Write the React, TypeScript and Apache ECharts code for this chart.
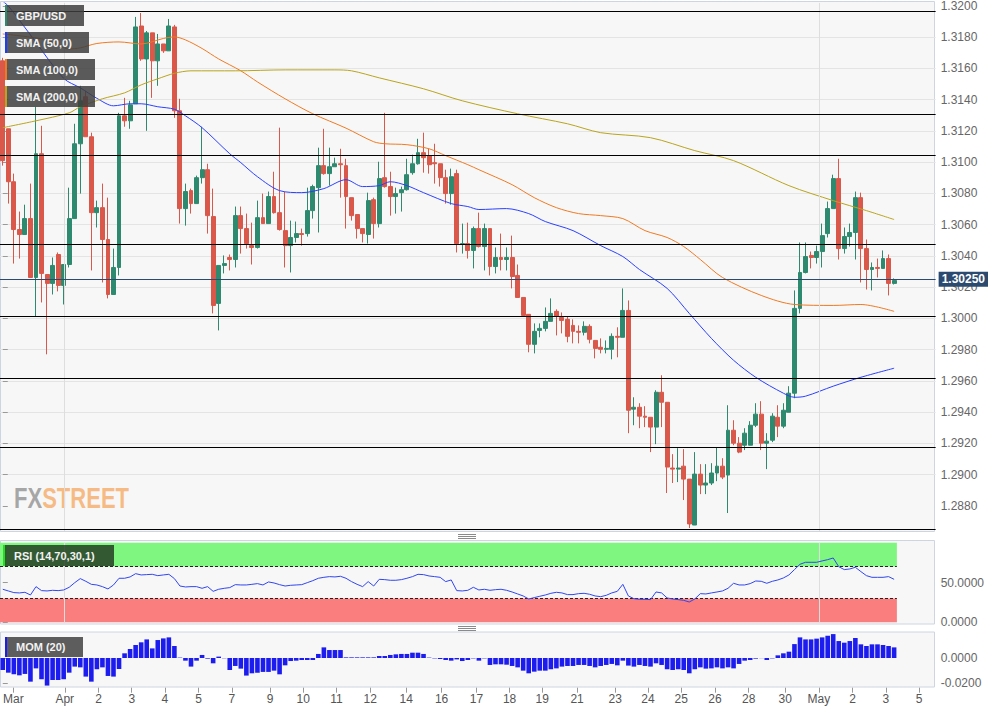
import React, { useEffect, useRef } from 'react';
import * as echarts from 'echarts';

const FONT = '"Liberation Sans", Arial, Helvetica, sans-serif';

// ---------------- data ----------------
const symbolName = 'GBP/USD';
const openP = [
  1.31649, 1.31214, 1.30875, 1.30569, 1.30537, 1.30639, 1.30262, 1.31054, 1.30281, 1.30224,
  1.30409, 1.30211, 1.30345, 1.30639, 1.31118, 1.31419, 1.31163, 1.30677, 1.30709, 1.30505,
  1.30153, 1.30326, 1.31297, 1.31265, 1.31374, 1.31872, 1.31661, 1.31828, 1.31649, 1.31757,
  1.31713, 1.31866, 1.31329, 1.30703, 1.30818, 1.30735, 1.30901, 1.30952, 1.30652, 1.30096,
  1.30339, 1.30390, 1.30377, 1.30658, 1.30575, 1.30466, 1.30454, 1.30645, 1.30607, 1.30780,
  1.30677, 1.30562, 1.30466, 1.30518, 1.30543, 1.30543, 1.30690, 1.30837, 1.30978, 1.30927,
  1.30971, 1.30990, 1.30978, 1.30773, 1.30665, 1.30575, 1.30537, 1.30760, 1.30607, 1.30901,
  1.30844, 1.30780, 1.30805, 1.30824, 1.30933, 1.30990, 1.31061, 1.31042, 1.30997, 1.30990,
  1.30901, 1.30799, 1.30927, 1.30473, 1.30479, 1.30435, 1.30575, 1.30460, 1.30575, 1.30332,
  1.30390, 1.30377, 1.30390, 1.30275, 1.30134, 1.30026, 1.29834, 1.29923, 1.29936, 1.29981,
  1.30045, 1.30006, 1.29994, 1.29955, 1.29917, 1.29911, 1.29949, 1.29859, 1.29815, 1.29802,
  1.29802, 1.29885, 1.29879, 1.30051, 1.29419, 1.29431, 1.29374, 1.29367, 1.29304, 1.29527,
  1.29463, 1.29042, 1.29035, 1.29054, 1.28971, 1.28677, 1.29003, 1.28933, 1.28946, 1.29010,
  1.29054, 1.28997, 1.29284, 1.29201, 1.29188, 1.29188, 1.29316, 1.29387, 1.29201, 1.29220,
  1.29367, 1.29310, 1.29399, 1.29521, 1.30064, 1.30294, 1.30403, 1.30390, 1.30428, 1.30543,
  1.30703, 1.30895, 1.30447, 1.30524, 1.30550, 1.30773, 1.30447, 1.30313, 1.30326, 1.30320,
  1.30383, 1.30224,
];
const closeP = [
  1.31010, 1.30875, 1.30569, 1.30537, 1.30639, 1.30262, 1.31054, 1.30288, 1.30224, 1.30339,
  1.30211, 1.30345, 1.30639, 1.31118, 1.31393, 1.31163, 1.30677, 1.30709, 1.30505, 1.30153,
  1.30326, 1.31297, 1.31265, 1.31367, 1.31866, 1.31661, 1.31828, 1.31649, 1.31757, 1.31713,
  1.31872, 1.31329, 1.30703, 1.30812, 1.30735, 1.30901, 1.30952, 1.30658, 1.30083, 1.30339,
  1.30351, 1.30377, 1.30658, 1.30575, 1.30479, 1.30454, 1.30645, 1.30607, 1.30780, 1.30677,
  1.30569, 1.30466, 1.30518, 1.30543, 1.30537, 1.30690, 1.30844, 1.30978, 1.30927, 1.30971,
  1.30990, 1.30984, 1.30780, 1.30658, 1.30575, 1.30543, 1.30754, 1.30607, 1.30895, 1.30844,
  1.30780, 1.30799, 1.30824, 1.30920, 1.30990, 1.31061, 1.31029, 1.30984, 1.30990, 1.30901,
  1.30799, 1.30907, 1.30479, 1.30479, 1.30435, 1.30575, 1.30460, 1.30575, 1.30332, 1.30390,
  1.30377, 1.30390, 1.30268, 1.30134, 1.30019, 1.29834, 1.29917, 1.29936, 1.29981, 1.30032,
  1.30013, 1.29987, 1.29885, 1.29917, 1.29911, 1.29949, 1.29866, 1.29808, 1.29802, 1.29808,
  1.29885, 1.29879, 1.30051, 1.29412, 1.29431, 1.29374, 1.29367, 1.29304, 1.29527, 1.29463,
  1.29048, 1.29035, 1.29042, 1.28971, 1.28684, 1.29003, 1.28933, 1.28946, 1.29010, 1.29054,
  1.28984, 1.29284, 1.29201, 1.29144, 1.29265, 1.29316, 1.29387, 1.29201, 1.29214, 1.29374,
  1.29310, 1.29412, 1.29521, 1.30064, 1.30294, 1.30396, 1.30390, 1.30428, 1.30530, 1.30703,
  1.30895, 1.30447, 1.30524, 1.30550, 1.30773, 1.30447, 1.30313, 1.30326, 1.30320, 1.30383,
  1.30224, 1.30243,
];
const highP = [
  1.31668, 1.31214, 1.30927, 1.30684, 1.30728, 1.30863, 1.31355, 1.31233, 1.30281, 1.30390,
  1.30422, 1.30345, 1.30837, 1.31246, 1.31489, 1.31457, 1.31189, 1.30754, 1.30863, 1.30773,
  1.30447, 1.31316, 1.31412, 1.31393, 1.31930, 1.31955, 1.31840, 1.31828, 1.31821, 1.31757,
  1.31917, 1.31879, 1.31406, 1.30863, 1.30831, 1.30914, 1.31227, 1.30990, 1.30831, 1.30339,
  1.30403, 1.30409, 1.30716, 1.30716, 1.30671, 1.30613, 1.30754, 1.30799, 1.30812, 1.30939,
  1.31221, 1.30812, 1.30626, 1.30620, 1.30575, 1.30837, 1.30856, 1.31093, 1.31214, 1.31093,
  1.31029, 1.31086, 1.31022, 1.30773, 1.30665, 1.30575, 1.30805, 1.30773, 1.31003, 1.31316,
  1.30939, 1.30837, 1.30844, 1.31022, 1.31048, 1.31150, 1.31189, 1.31086, 1.31118, 1.30990,
  1.30952, 1.30959, 1.30952, 1.30607, 1.30613, 1.30588, 1.30677, 1.30607, 1.30575, 1.30454,
  1.30543, 1.30454, 1.30530, 1.30345, 1.30134, 1.30026, 1.29968, 1.29968, 1.30070, 1.30128,
  1.30058, 1.30038, 1.30013, 1.29994, 1.29955, 1.29981, 1.29962, 1.29859, 1.29872, 1.29859,
  1.29904, 1.29943, 1.30192, 1.30115, 1.29495, 1.29457, 1.29438, 1.29367, 1.29540, 1.29636,
  1.29463, 1.29131, 1.29169, 1.29163, 1.28971, 1.29144, 1.29067, 1.29067, 1.29073, 1.29176,
  1.29105, 1.29444, 1.29348, 1.29240, 1.29297, 1.29342, 1.29457, 1.29470, 1.29265, 1.29393,
  1.29444, 1.29457, 1.29566, 1.30179, 1.30486, 1.30486, 1.30428, 1.30466, 1.30607, 1.30748,
  1.30920, 1.31022, 1.30582, 1.30607, 1.30812, 1.30805, 1.30505, 1.30358, 1.30383, 1.30435,
  1.30409, 1.30256,
];
const lowP = [
  1.30978, 1.30735, 1.30351, 1.30383, 1.30537, 1.30262, 1.30013, 1.30102, 1.29770, 1.30153,
  1.30173, 1.30089, 1.30326, 1.30639, 1.30799, 1.31163, 1.30307, 1.30582, 1.30230, 1.30128,
  1.30153, 1.30275, 1.31227, 1.31214, 1.31374, 1.31649, 1.31201, 1.31412, 1.31489, 1.31700,
  1.31713, 1.31284, 1.30607, 1.30594, 1.30671, 1.30735, 1.30863, 1.30543, 1.30032, 1.29923,
  1.30288, 1.30307, 1.30326, 1.30415, 1.30447, 1.30345, 1.30447, 1.30607, 1.30607, 1.30671,
  1.30562, 1.30326, 1.30294, 1.30486, 1.30466, 1.30524, 1.30639, 1.30550, 1.30920, 1.30850,
  1.30971, 1.30773, 1.30575, 1.30626, 1.30511, 1.30486, 1.30479, 1.30511, 1.30582, 1.30837,
  1.30658, 1.30671, 1.30684, 1.30818, 1.30920, 1.30984, 1.30933, 1.30927, 1.30863, 1.30844,
  1.30735, 1.30728, 1.30422, 1.30415, 1.30383, 1.30320, 1.30454, 1.30307, 1.30275, 1.30288,
  1.30307, 1.30307, 1.30192, 1.30134, 1.30019, 1.29783, 1.29776, 1.29879, 1.29917, 1.29981,
  1.29891, 1.29904, 1.29847, 1.29840, 1.29840, 1.29891, 1.29840, 1.29744, 1.29776, 1.29776,
  1.29738, 1.29751, 1.29879, 1.29265, 1.29316, 1.29297, 1.29304, 1.29144, 1.29195, 1.29304,
  1.28882, 1.28946, 1.28952, 1.28837, 1.28658, 1.28677, 1.28875, 1.28875, 1.28933, 1.28958,
  1.28971, 1.28754, 1.29188, 1.29137, 1.29157, 1.29188, 1.29304, 1.29157, 1.29035, 1.29208,
  1.29240, 1.29297, 1.29399, 1.29489, 1.30032, 1.30288, 1.30320, 1.30351, 1.30326, 1.30518,
  1.30703, 1.30377, 1.30415, 1.30460, 1.30377, 1.30230, 1.30185, 1.30179, 1.30262, 1.30320,
  1.30147, 1.30217,
];
const lastPrice = 1.3025;
const levelLines = [1.31968, 1.3131, 1.31042, 1.30473, 1.30013, 1.29617, 1.29176, 1.28652];

const sma50Idx = [0, 1, 5, 11, 14, 17, 20, 23, 25, 28, 31, 33, 36, 41, 43, 46, 50, 54, 58, 62, 65, 68, 70, 73, 76, 81, 84, 86, 91, 95, 98, 103, 108, 112, 115, 120, 124, 128, 132, 136, 141, 143, 145, 150, 155, 161];
const sma50Val = [1.3203, 1.32, 1.31815, 1.31537, 1.31476, 1.31409, 1.31361, 1.31374, 1.31374, 1.31355, 1.31339, 1.31297, 1.31221, 1.31054, 1.30997, 1.30907, 1.30818, 1.30805, 1.30831, 1.30888, 1.30844, 1.3085, 1.30875, 1.3085, 1.30805, 1.30735, 1.30716, 1.30697, 1.30703, 1.30671, 1.3062, 1.30562, 1.30466, 1.30396, 1.30313, 1.30192, 1.30032, 1.29872, 1.29732, 1.29623, 1.29521, 1.29495, 1.29502, 1.29566, 1.29623, 1.29681];
const sma100Idx = [0, 8, 12, 14, 17, 21, 25, 29, 31, 33, 36, 39, 43, 46, 51, 56, 62, 67, 69, 73, 77, 80, 84, 86, 92, 96, 100, 104, 108, 112, 116, 120, 123, 126, 130, 137, 143, 150, 155, 161];
const sma100Val = [1.31821, 1.31783, 1.31725, 1.31732, 1.3176, 1.3177, 1.31757, 1.31792, 1.31802, 1.31783, 1.31728, 1.31661, 1.31585, 1.31514, 1.31406, 1.3131, 1.31218, 1.31131, 1.31118, 1.31112, 1.31086, 1.31042, 1.30984, 1.30952, 1.30856, 1.30773, 1.30709, 1.30671, 1.30658, 1.30639, 1.30562, 1.30518, 1.3046, 1.30377, 1.30262, 1.30147, 1.30089, 1.30083, 1.30089, 1.30045];
const sma200Idx = [0, 6, 12, 14, 18, 22, 25, 28, 31, 34, 42, 51, 60, 63, 68, 76, 83, 93, 102, 108, 117, 125, 132, 142, 150, 156, 161];
const sma200Val = [1.31221, 1.31265, 1.31316, 1.31355, 1.31406, 1.31444, 1.31495, 1.31534, 1.31569, 1.31585, 1.31585, 1.31591, 1.31591, 1.31585, 1.3154, 1.3147, 1.31393, 1.3131, 1.31246, 1.31189, 1.31157, 1.31074, 1.3101, 1.3085, 1.30754, 1.3069, 1.30633];

const rsiVal = [
  41.5, 39.4, 37.3, 36.9, 37.7, 34.3, 44.8, 39.8, 39.4, 40.2,
  39.8, 40.6, 44.0, 49.8, 54.9, 51.5, 47.7, 46.9, 44.8, 41.9,
  46.9, 55.3, 55.3, 57.0, 61.1, 59.5, 59.9, 60.3, 58.6, 59.5,
  60.3, 54.9, 45.6, 44.4, 44.8, 44.8, 42.7, 44.8, 38.9, 41.5,
  42.7, 43.6, 47.3, 46.9, 46.9, 47.7, 48.6, 46.9, 50.7, 49.4,
  47.3, 45.6, 46.5, 46.9, 47.3, 49.8, 52.3, 55.3, 56.5, 57.4,
  57.0, 57.8, 55.3, 51.1, 47.7, 44.8, 51.1, 45.6, 54.0, 53.6,
  52.8, 52.8, 53.6, 55.3, 57.4, 60.3, 59.9, 58.2, 57.4, 56.5,
  51.1, 53.2, 39.8, 39.4, 40.2, 44.0, 40.6, 41.5, 40.2, 41.0,
  41.5, 40.2, 38.1, 35.6, 33.1, 29.3, 31.0, 32.7, 34.3, 36.4,
  37.7, 36.9, 34.8, 34.8, 36.0, 36.4, 35.2, 33.1, 32.2, 33.9,
  36.9, 38.9, 47.7, 33.1, 29.7, 28.9, 28.9, 28.5, 38.1, 36.9,
  30.6, 29.3, 28.5, 27.6, 25.5, 29.3, 36.0, 35.6, 36.9, 38.1,
  39.4, 42.7, 49.0, 46.9, 46.9, 48.6, 51.9, 51.5, 49.0, 51.5,
  53.2, 55.7, 59.5, 66.2, 72.9, 75.4, 75.4, 75.4, 77.1, 78.7,
  80.8, 69.9, 66.2, 67.0, 69.1, 63.7, 58.6, 56.5, 56.5, 56.5,
  57.4, 54.0,
];
const rsiUpper = 70;
const rsiLower = 30;

const momVal = [
  -0.0095, -0.0116, -0.0129, -0.0137, -0.0126, -0.0187, -0.0082, -0.0168, -0.0218, -0.0174,
  -0.0174, -0.0168, -0.0116, -0.0068, -0.0074, -0.0147, -0.0187, -0.0089, -0.0074, -0.0142,
  -0.0147, -0.0087, 0.0037, 0.0071, 0.0103, 0.0124, 0.0147, 0.0076, 0.0142, 0.0155,
  0.0163, 0.0095, 0.0003, -0.0021, -0.0068, -0.0021, 0.0024, -0.0005, -0.0042, 0.0011,
  -0.0002, -0.0095, -0.0063, -0.0084, -0.0139, -0.0121, -0.0116, -0.011, -0.011, -0.01,
  -0.0129, -0.0058, -0.0024, -0.0021, -0.0016, -0.0016, -0.0016, 0.0032, 0.0084, 0.0063,
  0.0063, 0.0063, 0.0005, 0.0005, 0.0005, 0.0005, 0.0005, 0.0005, 0.0016, 0.0016,
  0.0024, 0.0029, 0.0032, 0.0032, 0.0042, 0.0042, 0.0032, 0.0003, -0.0003, -0.0008,
  -0.0016, -0.0021, -0.0011, -0.0024, -0.0016, -0.0003, -0.0021, -0.0003, -0.0055, -0.005,
  -0.005, -0.0053, -0.0063, -0.0074, -0.01, -0.0121, -0.0108, -0.01, -0.01, -0.0089,
  -0.0082, -0.0068, -0.0063, -0.0063, -0.0055, -0.0055, -0.0063, -0.0074, -0.0063, -0.0055,
  -0.0047, -0.0058, -0.0021, -0.006, -0.0068, -0.0055, -0.0063, -0.0068, -0.0042, -0.0055,
  -0.0089, -0.0095, -0.0089, -0.0095, -0.0121, -0.0089, -0.0074, -0.0084, -0.0082, -0.0074,
  -0.0082, -0.0074, -0.0082, -0.0047, -0.0021, -0.0016, -0.0005, -0.0001, -0.0016, -0.0003,
  0.0021, 0.0037, 0.005, 0.011, 0.0163, 0.0147, 0.0147, 0.0153, 0.0163, 0.0176,
  0.0189, 0.0134, 0.0121, 0.0134, 0.0158, 0.0108, 0.0095, 0.0108, 0.0108, 0.0103,
  0.0095, 0.0084,
];

const xTickLabels = ['Mar', 'Apr', '2', '3', '4', '5', '7', '9', '10', '11', '12', '14', '16', '17', '18', '19', '21', '23', '24', '25', '26', '28', '30', 'May', '2', '3', '5'];
const xTickPos = [1.8, 11.1, 17.2, 23.2, 29.2, 35.3, 41.3, 48.2, 54.2, 60.2, 66.3, 72.8, 79.2, 85.5, 91.5, 97.4, 103.7, 110.6, 116.5, 122.5, 128.6, 134.7, 141.3, 147.4, 153.5, 159.5, 165.5];
const monthPos = [11.1, 147.4];

const priceTicks = [1.288, 1.29, 1.292, 1.294, 1.296, 1.298, 1.3, 1.302, 1.304, 1.306, 1.308, 1.31, 1.312, 1.314, 1.316, 1.318, 1.32];
const rsiTicks = [0, 50];
const momTicks = [0, -0.02];

// ---------------- layout ----------------
const SLOTS = 169;
const SLOT_W = 5.556;
const GRID_LEFT = -3.33;
const GRID_W = SLOTS * SLOT_W;
const X_MIN = -0.5;
const X_MAX = SLOTS - 0.5;
const MAIN_MIN = 1.286;
const MAIN_MAX = 1.3202;
const MAIN_VIS = [1.28639, 1.3202];
const MOM_VIS = [-0.0229, 0.0208];

const categories = Array.from({ length: SLOTS }, (_, i) => String(i));
const candleData = openP.map((o, i) => [o, closeP[i], lowP[i], highP[i]]);
const pairs = (idx: number[], val: number[]) => idx.map((k, i) => [k, val[i]]);

const GREEN = '#2e8a6e';
const RED = '#d9584a';
const GRID_LINE = '#e4e4e4';
const AXIS_TXT = '#666';

const monthLines = (lo: number, hi: number) =>
  monthPos.map((x) => [
    { coord: [x, lo], lineStyle: { color: '#dedede', width: 1, type: 'solid' } },
    { coord: [x, hi] },
  ]);

const labelBox = (x: number, y: number, w: number, h: number, text: string, stripe: string, fill: string) => ({
  type: 'group',
  z: 100,
  children: [
    { type: 'rect', shape: { x, y, width: w, height: h }, style: { fill }, z: 100 },
    { type: 'rect', shape: { x, y, width: 2, height: h }, style: { fill: stripe }, z: 101 },
    {
      type: 'text',
      x: x + 11,
      y: y + h / 2,
      z: 102,
      style: { text, fill: '#f2f2f2', font: `bold 11px ${FONT}`, verticalAlign: 'middle', textAlign: 'left' },
    },
  ],
});

const handle = (cy: number) => ({
  type: 'group',
  children: [-2, 0, 2].map((d) => ({
    type: 'line',
    shape: { x1: 458, y1: cy + d + 0.5, x2: 476, y2: cy + d + 0.5 },
    style: { stroke: '#8a8a8a', lineWidth: 1 },
  })),
});

const rightAxis = (gridIndex: number, min: number, max: number, interval: number, ticks: number[], digits: number) => ({
  type: 'value',
  gridIndex,
  position: 'right',
  min,
  max,
  interval,
  axisLine: { show: false },
  axisTick: { show: true, length: 5, customValues: ticks, lineStyle: { color: '#999' } },
  axisLabel: {
    customValues: ticks,
    formatter: (v: number) => v.toFixed(digits),
    color: AXIS_TXT,
    fontSize: 12,
    fontFamily: FONT,
    margin: 5,
  },
  splitLine: { show: true, showMinLine: false, showMaxLine: false, lineStyle: { color: GRID_LINE, width: 1 } },
});

const hiddenCat = (gridIndex: number) => ({
  type: 'category',
  gridIndex,
  data: categories,
  boundaryGap: true,
  show: false,
});
const hiddenVal = (gridIndex: number) => ({ type: 'value', gridIndex, min: X_MIN, max: X_MAX, show: false });

const option = {
  animation: false,
  backgroundColor: '#ffffff',
  textStyle: { fontFamily: FONT },
  grid: [
    { left: GRID_LEFT, width: GRID_W, top: 1.87, height: 535.2 },
    { left: GRID_LEFT, width: GRID_W, top: 542.7, height: 79.6 },
    { left: GRID_LEFT, width: GRID_W, top: 632.7, height: 75.9 },
    { left: GRID_LEFT, width: GRID_W, top: 686.7, height: 1 },
  ],
  xAxis: [
    hiddenCat(0),
    hiddenCat(1),
    hiddenCat(2),
    hiddenVal(0),
    hiddenVal(1),
    hiddenVal(2),
    {
      type: 'value',
      gridIndex: 3,
      min: X_MIN,
      max: X_MAX,
      position: 'bottom',
      axisLine: { show: false },
      splitLine: { show: false },
      axisTick: { show: true, length: 5, customValues: xTickPos, lineStyle: { color: '#999' } },
      axisLabel: {
        customValues: xTickPos,
        formatter: (v: number) => {
          let best = 0;
          for (let i = 1; i < xTickPos.length; i++) {
            if (Math.abs(xTickPos[i] - v) < Math.abs(xTickPos[best] - v)) best = i;
          }
          return xTickLabels[best];
        },
        color: '#555',
        fontSize: 12,
        fontFamily: FONT,
        margin: 5,
      },
    },
  ],
  yAxis: [
    rightAxis(0, MAIN_MIN, MAIN_MAX, 0.002, priceTicks, 4),
    rightAxis(1, 0, 100, 50, rsiTicks, 4),
    rightAxis(2, -0.04, 0.02, 0.02, momTicks, 4),
    { type: 'value', gridIndex: 3, show: false, min: 0, max: 1 },
  ],
  series: [
    {
      type: 'line',
      name: 'levels',
      xAxisIndex: 3,
      yAxisIndex: 0,
      data: [],
      z: 1,
      clip: false,
      markLine: {
        silent: true,
        precision: 6,
        symbol: ['none', 'none'],
        label: { show: false },
        data: [
          ...monthLines(MAIN_VIS[0], MAIN_VIS[1]),
          ...levelLines.map((v) => ({ yAxis: v, lineStyle: { color: '#000', width: 1.2, type: 'solid' } })),
          {
            yAxis: lastPrice,
            lineStyle: { color: '#2b4a6f', width: 1, type: 'solid' },
            label: {
              show: true,
              position: 'end',
              distance: 3,
              formatter: () => lastPrice.toFixed(5),
              backgroundColor: '#2b4a6f',
              color: '#ffffff',
              fontWeight: 'bold',
              fontSize: 12,
              fontFamily: FONT,
              padding: [2, 3, 1, 3],
            },
          },
        ],
      },
    },
    {
      type: 'candlestick',
      name: symbolName,
      xAxisIndex: 0,
      yAxisIndex: 0,
      data: candleData,
      barWidth: 4.4,
      z: 3,
      itemStyle: { color: GREEN, color0: RED, borderColor: GREEN, borderColor0: RED, borderWidth: 1 },
    },
    {
      type: 'line',
      name: 'SMA (50,0)',
      xAxisIndex: 3,
      yAxisIndex: 0,
      data: pairs(sma50Idx, sma50Val),
      showSymbol: false,
      smooth: 0.3,
      z: 4,
      lineStyle: { color: '#2a40ff', width: 1 },
    },
    {
      type: 'line',
      name: 'SMA (100,0)',
      xAxisIndex: 3,
      yAxisIndex: 0,
      data: pairs(sma100Idx, sma100Val),
      showSymbol: false,
      smooth: 0.3,
      z: 4,
      lineStyle: { color: '#f07a22', width: 1 },
    },
    {
      type: 'line',
      name: 'SMA (200,0)',
      xAxisIndex: 3,
      yAxisIndex: 0,
      data: pairs(sma200Idx, sma200Val),
      showSymbol: false,
      smooth: 0.3,
      z: 4,
      lineStyle: { color: '#b9a41c', width: 1 },
    },
    {
      type: 'line',
      name: 'rsiBands',
      xAxisIndex: 4,
      yAxisIndex: 1,
      data: [],
      z: 1,
      markArea: {
        silent: true,
        itemStyle: { opacity: 1 },
        data: [
          [{ coord: [X_MIN, rsiUpper], itemStyle: { color: '#7ff67f', opacity: 1 } }, { coord: [161.5, 100] }],
          [{ coord: [X_MIN, 0], itemStyle: { color: '#fa7e7e', opacity: 1 } }, { coord: [161.5, rsiLower] }],
        ],
      },
      markLine: {
        silent: true,
        precision: 6,
        symbol: ['none', 'none'],
        label: { show: false },
        data: [
          ...monthLines(0, 100),
          [{ coord: [X_MIN, rsiUpper], lineStyle: { color: '#222', width: 1, type: [3, 2] } }, { coord: [161.5, rsiUpper] }],
          [{ coord: [X_MIN, rsiLower], lineStyle: { color: '#222', width: 1, type: [3, 2] } }, { coord: [161.5, rsiLower] }],
        ],
      },
    },
    {
      type: 'line',
      name: 'RSI (14,70,30,1)',
      xAxisIndex: 1,
      yAxisIndex: 1,
      data: rsiVal,
      showSymbol: false,
      z: 5,
      lineStyle: { color: '#3046f0', width: 1 },
    },
    {
      type: 'line',
      name: 'momLines',
      xAxisIndex: 5,
      yAxisIndex: 2,
      data: [],
      z: 1,
      markLine: {
        silent: true,
        precision: 6,
        symbol: ['none', 'none'],
        label: { show: false },
        data: monthLines(MOM_VIS[0], MOM_VIS[1]),
      },
    },
    {
      type: 'bar',
      name: 'MOM (20)',
      xAxisIndex: 2,
      yAxisIndex: 2,
      data: momVal,
      barWidth: 4.6,
      z: 3,
      itemStyle: { color: '#1c1cef' },
    },
  ],
  graphic: {
    elements: [
      { type: 'rect', z: -10, silent: true, shape: { x: 0.5, y: 1.5, width: 934, height: 530 }, style: { fill: '#f7f7f7', stroke: '#cdd4e2', lineWidth: 1 } },
      { type: 'rect', z: -10, silent: true, shape: { x: 0.5, y: 540.5, width: 934, height: 83.5 }, style: { fill: '#f7f7f7', stroke: '#cdd4e2', lineWidth: 1 } },
      { type: 'rect', z: -10, silent: true, shape: { x: 0.5, y: 632, width: 934, height: 55 }, style: { fill: '#f7f7f7', stroke: '#cdd4e2', lineWidth: 1 } },
      {
        type: 'text',
        z: -5,
        x: 14,
        y: 498,
        scaleX: 0.76,
        silent: true,
        style: {
          text: '{a|FX}{b|STREET}',
          verticalAlign: 'middle',
          rich: {
            a: { fill: 'rgba(140,140,140,0.75)', font: `bold 29px ${FONT}` },
            b: { fill: 'rgba(246,160,80,0.7)', font: `bold 29px ${FONT}` },
          },
        },
      },
      labelBox(5, 5, 79, 21, symbolName, '#2e8a6e', 'rgba(62,62,62,0.85)'),
      labelBox(5, 32, 84, 21, 'SMA (50,0)', '#1a3cff', 'rgba(62,62,62,0.85)'),
      labelBox(5, 59, 90, 21, 'SMA (100,0)', '#f07a22', 'rgba(62,62,62,0.85)'),
      labelBox(5, 86, 90, 21, 'SMA (200,0)', '#b9a41c', 'rgba(62,62,62,0.85)'),
      labelBox(3, 545, 111, 21, 'RSI (14,70,30,1)', '#22dd22', 'rgba(30,45,30,0.78)'),
      labelBox(5, 637, 78, 20, 'MOM (20)', '#1c1cef', 'rgba(72,72,72,0.88)'),
      handle(536),
      handle(628),
    ],
  },
};

export default function App() {
  const ref = useRef<HTMLDivElement>(null);
  useEffect(() => {
    if (!ref.current) return;
    const chart = echarts.init(ref.current, null, { renderer: 'svg' });
    chart.setOption(option as any);
    return () => chart.dispose();
  }, []);
  return (
    <div
      ref={ref}
      style={{ position: 'absolute', left: 0, top: 0, width: 1005, height: 713, background: '#fff' }}
    />
  );
}
